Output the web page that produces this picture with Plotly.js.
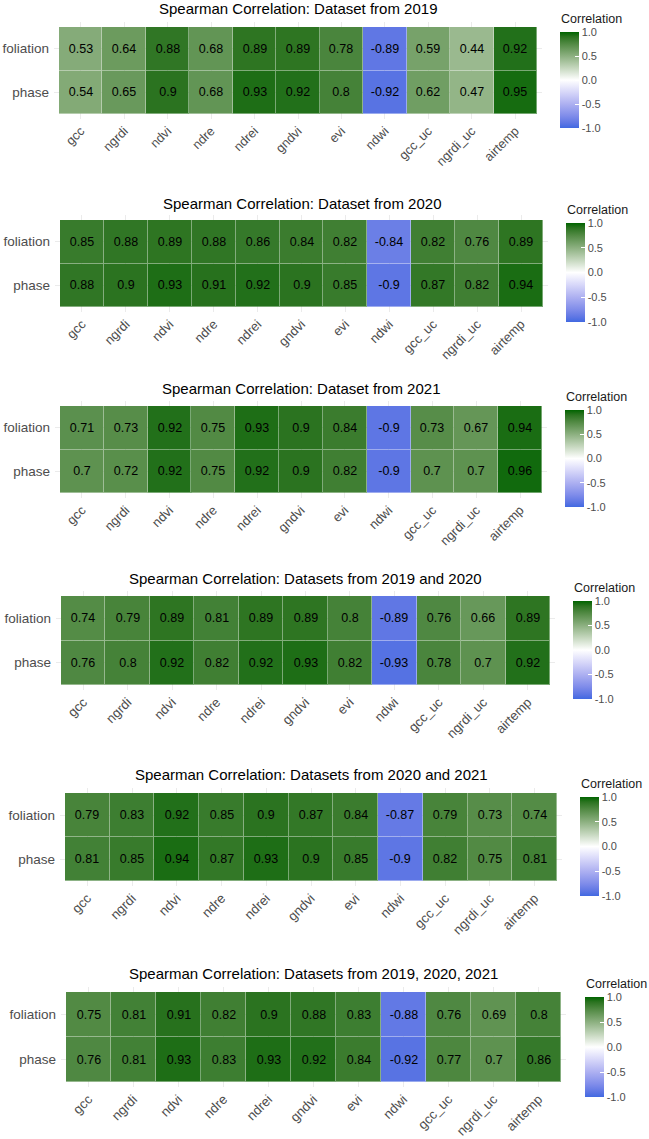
<!DOCTYPE html>
<html>
<head>
<meta charset="utf-8">
<script src="https://cdn.plot.ly/plotly-3.0.1.min.js"></script>
<style>html,body{margin:0;padding:0;background:#fff;}#chart{width:649px;height:1139px;}</style>
</head>
<body>
<div id="chart"></div>
<script>
// ---- data ----
const variables = ["gcc","ngrdi","ndvi","ndre","ndrei","gndvi","evi","ndwi","gcc_uc","ngrdi_uc","airtemp"];
const rows = ["phase","foliation"];
const titles = [
  "Spearman Correlation: Dataset from 2019",
  "Spearman Correlation: Dataset from 2020",
  "Spearman Correlation: Dataset from 2021",
  "Spearman Correlation: Datasets from 2019 and 2020",
  "Spearman Correlation: Datasets from 2020 and 2021",
  "Spearman Correlation: Datasets from 2019, 2020, 2021"
];
const legendTitle = "Correlation";
const foliation2019 = [0.53,0.64,0.88,0.68,0.89,0.89,0.78,-0.89,0.59,0.44,0.92];
const phase2019     = [0.54,0.65,0.9,0.68,0.93,0.92,0.8,-0.92,0.62,0.47,0.95];
const foliation2020 = [0.85,0.88,0.89,0.88,0.86,0.84,0.82,-0.84,0.82,0.76,0.89];
const phase2020     = [0.88,0.9,0.93,0.91,0.92,0.9,0.85,-0.9,0.87,0.82,0.94];
const foliation2021 = [0.71,0.73,0.92,0.75,0.93,0.9,0.84,-0.9,0.73,0.67,0.94];
const phase2021     = [0.7,0.72,0.92,0.75,0.92,0.9,0.82,-0.9,0.7,0.7,0.96];
const foliation1920 = [0.74,0.79,0.89,0.81,0.89,0.89,0.8,-0.89,0.76,0.66,0.89];
const phase1920     = [0.76,0.8,0.92,0.82,0.92,0.93,0.82,-0.93,0.78,0.7,0.92];
const foliation2021b = [0.79,0.83,0.92,0.85,0.9,0.87,0.84,-0.87,0.79,0.73,0.74];
const phase2021b     = [0.81,0.85,0.94,0.87,0.93,0.9,0.85,-0.9,0.82,0.75,0.81];
const foliationAll = [0.75,0.81,0.91,0.82,0.9,0.88,0.83,-0.88,0.76,0.69,0.8];
const phaseAll     = [0.76,0.81,0.93,0.83,0.93,0.92,0.84,-0.92,0.77,0.7,0.86];
const colorbarTicks = [-1,-0.5,0,0.5,1];
const colorbarTickText = ["-1.0","-0.5","0.0","0.5","1.0"];

const panelData = [
  [phase2019, foliation2019],
  [phase2020, foliation2020],
  [phase2021, foliation2021],
  [phase1920, foliation1920],
  [phase2021b, foliation2021b],
  [phaseAll, foliationAll]
];

// ---- layout geometry (pixels) ----
const W = 649, H = 1139;
const geom = [
  {L:59, R:537, T:27,  B:114,  cbx:560, cbt:32,  cbb:128,  ty:9,   xf:12.8},
  {L:60, R:543, T:220, B:307,  cbx:566, cbt:223, cbb:322,  ty:203, xf:13},
  {L:60, R:542, T:406, B:493,  cbx:565, cbt:410, cbb:507,  ty:388, xf:13},
  {L:61, R:550, T:596, B:685,  cbx:573, cbt:601, cbb:699,  ty:578, xf:13.2},
  {L:65, R:557, T:793, B:881,  cbx:580, cbt:797, cbb:896,  ty:774, xf:13.3},
  {L:66, R:561, T:992, B:1082, cbx:585, cbt:997, cbb:1097, ty:973, xf:13.3}
];
const EXT = 5;
const FONT = "Liberation Sans, Arial, sans-serif";
const colorscale = [
  [0,'#4169e1'],[0.05,'#5e76e4'],[0.125,'#7f8cea'],[0.25,'#adb0f1'],[0.375,'#d7d7f9'],
  [0.5,'#ffffff'],[0.625,'#c5d7be'],[0.75,'#8cb080'],[0.875,'#528a44'],[0.95,'#2b7320'],[1,'#006400']
];

const traces = [];
const layout = {
  width: W, height: H,
  margin: {l:0, r:0, t:0, b:0},
  paper_bgcolor: '#ffffff',
  plot_bgcolor: '#ffffff',
  font: {family: FONT},
  showlegend: false,
  annotations: []
};

geom.forEach((g, i) => {
  const sfx = i === 0 ? '' : String(i + 1);
  const cw = (g.R - g.L) / variables.length;
  const rh = (g.B - g.T) / rows.length;
  const ex = EXT / cw, ey = EXT / rh;
  const z = panelData[i];
  // faint underlay so the cell borders read as soft light lines
  traces.push({
    type: 'heatmap',
    x: variables, y: rows, z: z,
    coloraxis: 'coloraxis' + sfx,
    xaxis: 'x' + sfx, yaxis: 'y' + sfx,
    opacity: 0.6,
    hoverinfo: 'skip'
  });
  traces.push({
    type: 'heatmap',
    x: variables,
    y: rows,
    z: z,
    text: z.map(r => r.map(v => String(v))),
    texttemplate: '%{text}',
    textfont: {family: FONT, size: 12.5, color: '#000000'},
    coloraxis: 'coloraxis' + sfx,
    xaxis: 'x' + sfx,
    yaxis: 'y' + sfx,
    xgap: 1, ygap: 1,
    hoverinfo: 'skip'
  });
  layout['xaxis' + sfx] = {
    domain: [(g.L - EXT) / W, (g.R + EXT) / W],
    anchor: 'y' + sfx,
    type: 'category',
    range: [-0.5 - ex, variables.length - 0.5 + ex],
    showgrid: true, gridcolor: '#ebebeb', gridwidth: 1,
    zeroline: false, showline: false, ticks: '',
    tickangle: -45,
    ticklabelstandoff: 1,
    tickfont: {family: FONT, size: g.xf, color: '#4d4d4d'},
    fixedrange: true
  };
  layout['yaxis' + sfx] = {
    domain: [1 - (g.B + EXT) / H, 1 - (g.T - EXT) / H],
    anchor: 'x' + sfx,
    type: 'category',
    range: [-0.5 - ey, rows.length - 0.5 + ey],
    showgrid: true, gridcolor: '#ebebeb', gridwidth: 1,
    zeroline: false, showline: false, ticks: '',
    ticklabelstandoff: 4,
    tickfont: {family: FONT, size: 13.5, color: '#4d4d4d'},
    fixedrange: true
  };
  layout['coloraxis' + sfx] = {
    cmin: -1, cmax: 1,
    colorscale: colorscale,
    colorbar: {
      x: g.cbx / W, xanchor: 'left', xpad: 0,
      y: 1 - g.cbt / H, yanchor: 'top', ypad: 0,
      lenmode: 'pixels', len: g.cbb - g.cbt,
      thicknessmode: 'pixels', thickness: 19,
      outlinewidth: 0,
      tickmode: 'array', tickvals: colorbarTicks, ticktext: colorbarTickText,
      ticks: 'inside', ticklen: 4, tickcolor: '#ffffff', tickwidth: 1,
      tickfont: {family: FONT, size: 11, color: '#4d4d4d'},
      title: {text: ''}
    }
  };
  layout.annotations.push({
    text: titles[i],
    xref: 'paper', yref: 'paper',
    x: ((g.L + g.R) / 2) / W, y: 1 - g.ty / H,
    xanchor: 'center', yanchor: 'middle',
    showarrow: false,
    font: {family: FONT, size: 15, color: '#000000'}
  });
  layout.annotations.push({
    text: legendTitle,
    xref: 'paper', yref: 'paper',
    x: (g.cbx - 1) / W, y: 1 - (g.cbt - 13) / H,
    xanchor: 'left', yanchor: 'middle',
    showarrow: false,
    font: {family: FONT, size: 12.5, color: '#1a1a1a'}
  });
});

Plotly.newPlot('chart', traces, layout, {displayModeBar: false, staticPlot: true});
</script>
</body>
</html>
